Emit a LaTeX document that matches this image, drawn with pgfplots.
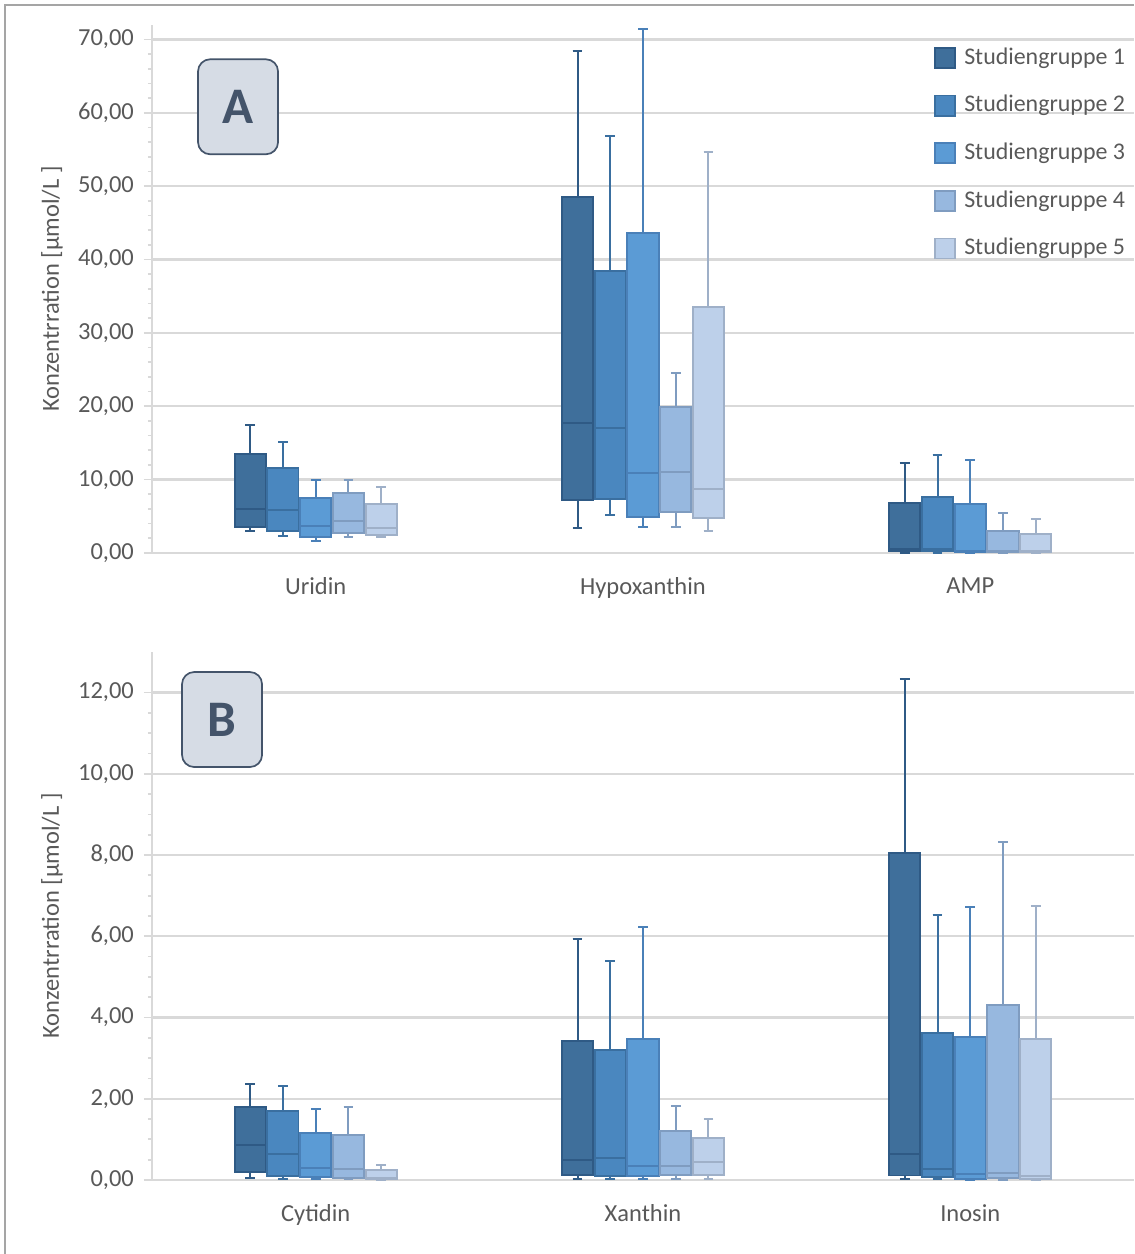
\documentclass[border=0pt]{standalone}
\usepackage{fontspec}
\setmainfont{Carlito}
\usepackage{pgfplots}
\pgfplotsset{compat=1.18}
\usepgfplotslibrary{statistics}
\definecolor{f1}{HTML}{3F6F9B}\definecolor{e1}{HTML}{2F5A85}
\definecolor{f2}{HTML}{4A87BF}\definecolor{e2}{HTML}{3A6FA0}
\definecolor{f3}{HTML}{5B9BD5}\definecolor{e3}{HTML}{4A80B8}
\definecolor{f4}{HTML}{97B8DF}\definecolor{e4}{HTML}{7F9CC0}
\definecolor{f5}{HTML}{BDD0EA}\definecolor{e5}{HTML}{9FB0C8}
\definecolor{gridc}{HTML}{D9D9D9}
\definecolor{txt}{HTML}{595959}
\definecolor{boxf}{HTML}{D6DCE5}
\definecolor{boxe}{HTML}{44546A}
\definecolor{frame}{HTML}{A5A5A5}
\newcommand{\bx}[7]{\addplot[#7, line width=0.7pt, boxplot prepared={draw direction=y, draw position=#1, lower whisker=#2, lower quartile=#3, median=#4, upper quartile=#5, upper whisker=#6}] coordinates {};}
\tikzset{lettbox/.style={draw=boxe, fill=boxf, line width=0.6pt, rounded corners=0.15cm, minimum width=0.988cm, minimum height=1.173cm, text=boxe, font=\fontsize{18}{20}\selectfont\bfseries, inner sep=0pt}}
\pgfplotsset{
  g1/.style={draw=e1, fill=f1}, g2/.style={draw=e2, fill=f2}, g3/.style={draw=e3, fill=f3},
  g4/.style={draw=e4, fill=f4}, g5/.style={draw=e5, fill=f5},
  myaxis/.style={scale only axis, width=12.123cm, height=6.519cm, xmin=-0.5, xmax=2.5, ymin=0,
    axis lines*=left, axis line style={-, draw=gridc, line width=0.8pt},
    xtick={0,1,2}, xtick style={draw=none},
    ymajorgrids, grid style={gridc, line width=0.8pt},
    tick align=outside, major tick length=0.1cm, minor tick length=0.05cm,
    ytick style={draw=gridc, line width=0.6pt},
    yticklabel style={/pgf/number format/.cd, fixed, fixed zerofill, precision=2, use comma, assume math mode=true},
    ticklabel style={font=\fontsize{8.6}{10}\selectfont, text=txt},
    xticklabel style={yshift=-0.08cm},
    ylabel={Konzentrration [µmol/L ]},
    ylabel style={at={(axis description cs:-0.1019,0.5)}, anchor=center, font=\fontsize{8.6}{10}\selectfont, text=txt},
    clip=false, boxplot/draw direction=y, boxplot/box extend=0.095, boxplot/whisker extend=0.03}
}
\begin{document}
\begin{tikzpicture}
\useasboundingbox (-1.877,-0.914) rectangle (12.124,14.568);
\draw[frame, line width=0.7pt] (-1.815,-0.914) -- (-1.815,14.506) -- (12.124,14.506);
\begin{axis}[myaxis, at={(0,7.741cm)}, anchor=south west, ymax=72, ytick={0,10,...,70}, minor y tick num=4,
  xticklabels={Uridin,Hypoxanthin,AMP},
  legend style={draw=none, fill=none, at={(axis description cs:1.006,0.98)}, anchor=north east, font=\fontsize{8.4}{10}\selectfont, text=txt, row sep=0.19cm, /tikz/every odd column/.append style={column sep=0.03cm}},
  legend cell align=left,
  legend image code/.code={\draw[#1, line width=0.6pt] (0cm,-0.125cm) rectangle (0.25cm,0.125cm);}]
\addlegendimage{g1}\addlegendentry{Studiengruppe 1}
\addlegendimage{g2}\addlegendentry{Studiengruppe 2}
\addlegendimage{g3}\addlegendentry{Studiengruppe 3}
\addlegendimage{g4}\addlegendentry{Studiengruppe 4}
\addlegendimage{g5}\addlegendentry{Studiengruppe 5}
% Uridin
\bx{-0.2}{3.04}{3.5}{5.95}{13.44}{17.5}{g1, forget plot}
\bx{-0.1}{2.36}{3.0}{5.9}{11.6}{15.1}{g2, forget plot}
\bx{0.0}{1.63}{2.22}{3.72}{7.53}{10.0}{g3, forget plot}
\bx{0.1}{2.22}{2.77}{4.4}{8.21}{10.0}{g4, forget plot}
\bx{0.2}{2.22}{2.45}{3.4}{6.63}{8.95}{g5, forget plot}
% Hypoxanthin
\bx{0.8}{3.4}{7.2}{17.7}{48.5}{68.5}{g1, forget plot}
\bx{0.9}{5.2}{7.35}{17.0}{38.5}{56.9}{g2, forget plot}
\bx{1.0}{3.5}{4.9}{10.9}{43.6}{71.4}{g3, forget plot}
\bx{1.1}{3.5}{5.6}{11.0}{19.9}{24.5}{g4, forget plot}
\bx{1.2}{3.0}{4.8}{8.7}{33.6}{54.7}{g5, forget plot}
% AMP
\bx{1.8}{0.05}{0.27}{0.55}{6.85}{12.3}{g1, forget plot}
\bx{1.9}{0.05}{0.2}{0.5}{7.67}{13.4}{g2, forget plot}
\bx{2.0}{0.05}{0.15}{0.3}{6.67}{12.7}{g3, forget plot}
\bx{2.1}{0.05}{0.1}{0.2}{3.04}{5.5}{g4, forget plot}
\bx{2.2}{0.05}{0.1}{0.2}{2.63}{4.6}{g5, forget plot}
\node[lettbox] at (axis description cs:0.0876,0.845) {A};
\end{axis}
\begin{axis}[myaxis, at={(0,0)}, anchor=south west, ymax=13, ytick={0,2,...,12}, minor y tick num=3,
  xticklabels={Cytidin,Xanthin,Inosin}]
% Cytidin
\bx{-0.2}{0.05}{0.19}{0.86}{1.80}{2.37}{g1}
\bx{-0.1}{0.03}{0.1}{0.64}{1.70}{2.31}{g2}
\bx{0.0}{0.02}{0.07}{0.30}{1.16}{1.74}{g3}
\bx{0.1}{0.02}{0.04}{0.27}{1.11}{1.80}{g4}
\bx{0.2}{0.01}{0.02}{0.05}{0.25}{0.38}{g5}
% Xanthin
\bx{0.8}{0.02}{0.12}{0.49}{3.41}{5.94}{g1}
\bx{0.9}{0.02}{0.1}{0.54}{3.19}{5.40}{g2}
\bx{1.0}{0.02}{0.1}{0.34}{3.48}{6.23}{g3}
\bx{1.1}{0.02}{0.12}{0.34}{1.20}{1.82}{g4}
\bx{1.2}{0.02}{0.12}{0.44}{1.03}{1.50}{g5}
% Inosin
\bx{1.8}{0.02}{0.11}{0.65}{8.05}{12.34}{g1}
\bx{1.9}{0.02}{0.07}{0.27}{3.63}{6.53}{g2}
\bx{2.0}{0.01}{0.03}{0.15}{3.53}{6.72}{g3}
\bx{2.1}{0.01}{0.05}{0.18}{4.32}{8.32}{g4}
\bx{2.2}{0.01}{0.03}{0.10}{3.48}{6.75}{g5}
\node[lettbox] at (axis description cs:0.0713,0.872) {B};
\end{axis}
\end{tikzpicture}
\end{document}
